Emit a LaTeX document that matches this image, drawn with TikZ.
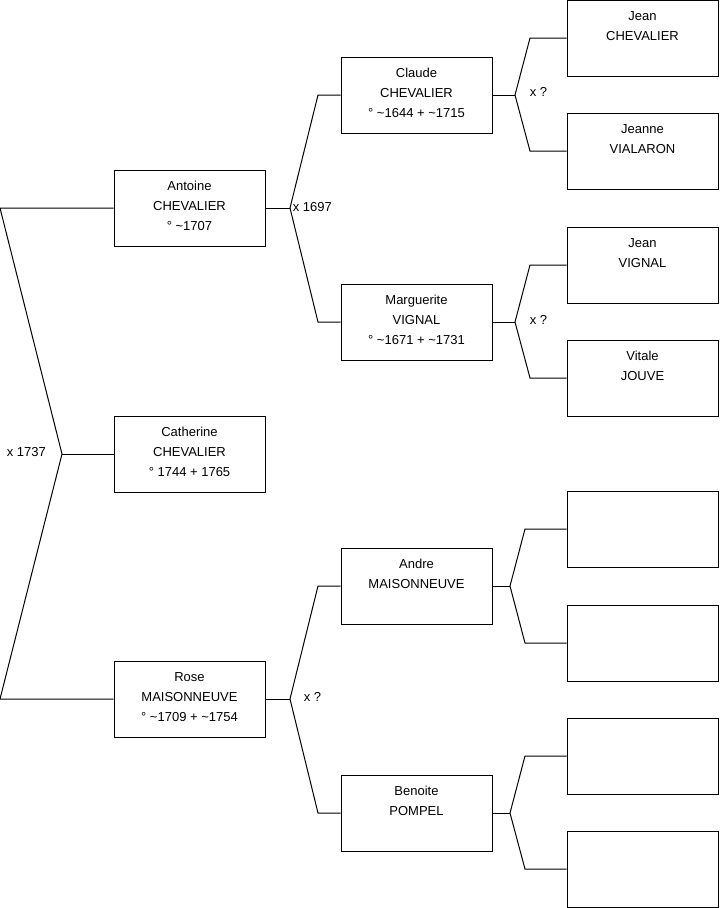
\documentclass[tikz,border=0pt]{standalone}
\usepackage{fontspec}
\setmainfont{Liberation Sans}
\usepackage{tikz}
\usetikzlibrary{positioning}

\newcommand{\boxtext}[1]{\parbox[c][57pt][t]{113pt}{\centering\rule{0pt}{15pt}#1}}

\begin{document}
\begin{tikzpicture}[x=0.75pt, y=-0.75pt, line width=0.75pt, font=\fontsize{9.75}{15}\selectfont,
    personbox/.style={draw, rectangle, inner sep=0pt, minimum width=113.25pt, minimum height=57pt},
    union/.style={anchor=west, inner sep=1pt}]
    \useasboundingbox (0,0) rectangle (719,908);

    % generation 1
    \node[personbox] (antoine) at (189.5,208) {\boxtext{Antoine\\CHEVALIER\\° \textasciitilde1707}};
    \node[personbox] (catherine) at (189.5,454) {\boxtext{Catherine\\CHEVALIER\\° 1744 + 1765}};
    \node[personbox] (rose) at (189.5,699) {\boxtext{Rose\\MAISONNEUVE\\° \textasciitilde1709 + \textasciitilde1754}};

    % generation 2
    \node[personbox] (claude) at (416.5,95) {\boxtext{Claude\\CHEVALIER\\° \textasciitilde1644 + \textasciitilde1715}};
    \node[personbox] (marguerite) at (416.5,322) {\boxtext{Marguerite\\VIGNAL\\° \textasciitilde1671 + \textasciitilde1731}};
    \node[personbox] (andre) at (416.5,586) {\boxtext{Andre\\MAISONNEUVE}};
    \node[personbox] (benoite) at (416.5,813) {\boxtext{Benoite\\POMPEL}};

    % generation 3
    \node[personbox] (jeanc) at (642.5,38) {\boxtext{Jean\\CHEVALIER}};
    \node[personbox] (jeanne) at (642.5,151) {\boxtext{Jeanne\\VIALARON}};
    \node[personbox] (jeanv) at (642.5,265) {\boxtext{Jean\\VIGNAL}};
    \node[personbox] (vitale) at (642.5,378) {\boxtext{Vitale\\JOUVE}};
    \node[personbox] (empty1) at (642.5,529) {};
    \node[personbox] (empty2) at (642.5,643) {};
    \node[personbox] (empty3) at (642.5,756) {};
    \node[personbox] (empty4) at (642.5,869) {};

    % fork points
    \coordinate (m0) at (62,454);
    \coordinate (m0a) at (0,208);
    \coordinate (m0b) at (0,699);
    \coordinate (m1) at (290,208);
    \coordinate (m1a) at (318,95);
    \coordinate (m1b) at (318,322);
    \coordinate (m2) at (290,699);
    \coordinate (m2a) at (318,586);
    \coordinate (m2b) at (318,813);
    \coordinate (m3) at (515,95);
    \coordinate (m3a) at (530,38);
    \coordinate (m3b) at (530,151);
    \coordinate (m4) at (515,322);
    \coordinate (m4a) at (530,265);
    \coordinate (m4b) at (530,378);
    \coordinate (m5) at (510,586);
    \coordinate (m5a) at (525,529);
    \coordinate (m5b) at (525,643);
    \coordinate (m6) at (510,813);
    \coordinate (m6a) at (525,756);
    \coordinate (m6b) at (525,869);

    \draw (antoine.west) -- (m0a) -- (m0) -- (m0b) -- (rose.west);
    \draw (m0) -- (catherine.west);
    \draw (claude.west) -- (m1a) -- (m1) -- (m1b) -- (marguerite.west);
    \draw (antoine.east) -- (m1);
    \draw (andre.west) -- (m2a) -- (m2) -- (m2b) -- (benoite.west);
    \draw (rose.east) -- (m2);
    \draw (jeanc.west) -- (m3a) -- (m3) -- (m3b) -- (jeanne.west);
    \draw (claude.east) -- (m3);
    \draw (jeanv.west) -- (m4a) -- (m4) -- (m4b) -- (vitale.west);
    \draw (marguerite.east) -- (m4);
    \draw (empty1.west) -- (m5a) -- (m5) -- (m5b) -- (empty2.west);
    \draw (andre.east) -- (m5);
    \draw (empty3.west) -- (m6a) -- (m6) -- (m6b) -- (empty4.west);
    \draw (benoite.east) -- (m6);

    % marriage labels
    \node[union] (u0) at (5,452) {x 1737};
    \node[union] (u1) at (291,207) {x 1697};
    \node[union] (u2) at (302,697) {x ?};
    \node[union] (u3) at (528,92) {x ?};
    \node[union] (u4) at (528,320) {x ?};
\end{tikzpicture}
\end{document}
